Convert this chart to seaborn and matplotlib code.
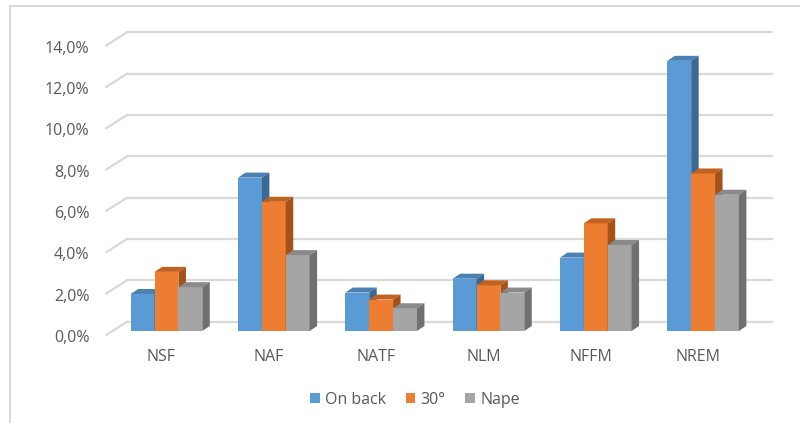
import numpy as np
import pandas as pd
import matplotlib
matplotlib.use("Agg")
import matplotlib.pyplot as plt
import matplotlib.transforms as mtransforms
from matplotlib.patches import Polygon, Patch
from matplotlib.lines import Line2D
import seaborn as sns

# ---- data -------------------------------------------------------------
categories = ["NSF", "NAF", "NATF", "NLM", "NFFM", "NREM"]
series_names = ["On back", "30°", "Nape"]
on_back = [1.79, 7.42, 1.86, 2.53, 3.55, 13.07]
deg30 = [2.86, 6.25, 1.52, 2.21, 5.21, 7.62]
nape = [2.12, 3.67, 1.10, 1.86, 4.16, 6.59]
y_ticks = [0, 2, 4, 6, 8, 10, 12, 14]

front_colors = ["#5b9bd5", "#ed7d31", "#a5a5a5"]
top_colors = ["#4a80b2", "#c2621f", "#8a8a8a"]
side_colors = ["#3d6890", "#a4521a", "#707070"]

df = pd.DataFrame({
    "category": categories * 3,
    "series": [s for s in series_names for _ in categories],
    "value": on_back + deg30 + nape,
})

# ---- figure -----------------------------------------------------------
DPI = 100
W, H = 800, 423
sns.set_theme(style="white")
plt.rcParams["font.family"] = ["Open Sans", "DejaVu Sans"]

fig = plt.figure(figsize=(W / DPI, H / DPI), dpi=DPI)
fig.patch.set_facecolor("white")

# axes rectangle = front plane of the bars (pixel geometry)
ax_left, ax_right = 112.3, 757.3
ax_base, ax_top = 331.0, 41.6
ax = fig.add_axes([ax_left / W, (H - ax_base) / H,
                   (ax_right - ax_left) / W, (ax_base - ax_top) / H])

sns.barplot(data=df, x="category", y="value", hue="series",
            order=categories, hue_order=series_names,
            palette=front_colors, saturation=1, width=0.667, gap=0,
            legend=False, errorbar=None, ax=ax)

ax.set_xlim(-0.505, 5.505)
ax.set_ylim(0, 14)
for s in ax.spines.values():
    s.set_visible(False)
ax.set_xlabel("")
ax.set_ylabel("")
ax.set_facecolor("none")

# depth offsets (pixels)
wall_dx, wall_dy = 14.7, 9.3      # back wall relative to bar front
floor_dx, floor_dy = -6.2, -4.0   # floor front edge relative to bar front
bar_dx, bar_dy = 7.5, 5.0         # bar depth

grid_col = "#d9d9d9"
back_tr = mtransforms.offset_copy(ax.transData, fig, x=wall_dx, y=wall_dy, units="dots")
x0, x1 = ax.get_xlim()
for g in y_ticks:
    ax.add_line(Line2D([x0, x1], [g, g], transform=back_tr, color=grid_col,
                       lw=1.6, zorder=0.5, clip_on=False))
    # slanted side-wall segment
    p_front = ax.transData.transform((x0, g)) + np.array([floor_dx, floor_dy])
    p_back = ax.transData.transform((x0, g)) + np.array([wall_dx, wall_dy])
    pts = ax.transData.inverted().transform(np.vstack([p_front, p_back]))
    ax.add_line(Line2D(pts[:, 0], pts[:, 1], color=grid_col, lw=1.6,
                       zorder=0.5, clip_on=False))

# 3D faces for each bar
inv = ax.transData.inverted()
for k, cont in enumerate(ax.containers):
    z = 2 + k
    for bar in cont:
        bar.set_zorder(z)
        bar.set_linewidth(0)
        bx, bw, bh = bar.get_x(), bar.get_width(), bar.get_height()
        fl = ax.transData.transform((bx, bh))
        fr = ax.transData.transform((bx + bw, bh))
        br = ax.transData.transform((bx + bw, 0))
        off = np.array([bar_dx, bar_dy])
        top = inv.transform(np.vstack([fl, fr, fr + off, fl + off]))
        side = inv.transform(np.vstack([br, fr, fr + off, br + off]))
        ax.add_patch(Polygon(top, closed=True, facecolor=top_colors[k],
                             edgecolor="none", zorder=z + 0.1, clip_on=False))
        ax.add_patch(Polygon(side, closed=True, facecolor=side_colors[k],
                             edgecolor="none", zorder=z + 0.1, clip_on=False))

# ticks
label_col = "#595959"
fs = 11.5
ax.set_yticks(y_ticks)
ax.set_yticklabels([f"{v:.1f}%".replace(".", ",") for v in y_ticks])
ax.tick_params(axis="y", length=0, pad=16.5, labelsize=fs, labelcolor=label_col)
ax.tick_params(axis="x", length=0, pad=13, labelsize=fs, labelcolor=label_col)
for lab in ax.get_yticklabels():
    lab.set_transform(lab.get_transform() +
                      mtransforms.ScaledTranslation(0, -5 / DPI, fig.dpi_scale_trans))
for lab in ax.get_xticklabels():
    lab.set_transform(lab.get_transform() +
                      mtransforms.ScaledTranslation(-5 / DPI, 0, fig.dpi_scale_trans))

# legend
handles = [Patch(facecolor=c, edgecolor="none") for c in front_colors]
fig.legend(handles, series_names, loc="center", ncol=3,
           bbox_to_anchor=(415 / W, 1 - 400 / H), frameon=False,
           handlelength=0.6, handleheight=0.6, handletextpad=0.35,
           columnspacing=1.2, fontsize=fs, labelcolor=label_col)

# chart-area border
fig.add_artist(Line2D([10 / W, 10 / W], [0, 1 - 6 / H], color=grid_col, lw=1.5,
                      transform=fig.transFigure))
fig.add_artist(Line2D([10 / W, 1], [1 - 6 / H, 1 - 6 / H], color=grid_col, lw=1.5,
                      transform=fig.transFigure))

fig.savefig("out.png", dpi=DPI, facecolor="white")
